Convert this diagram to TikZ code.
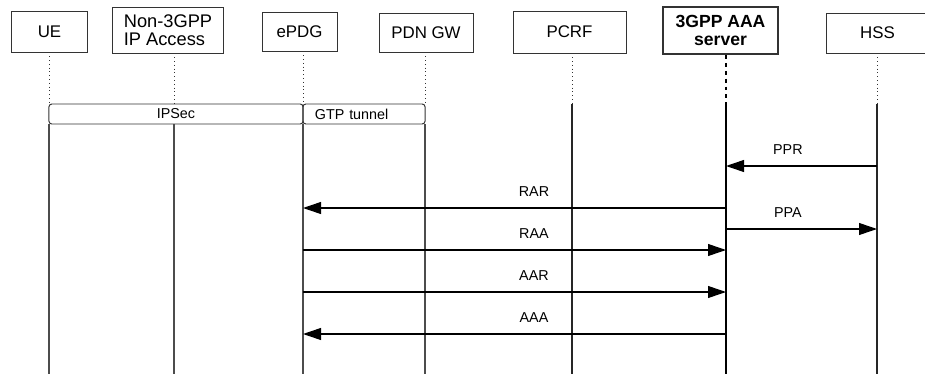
\documentclass[tikz,border=0pt]{standalone}
\usepackage{fontspec}
\setmainfont{Liberation Sans}
\usetikzlibrary{arrows.meta,positioning}
\tikzset{
  entity/.style={draw=black!80,line width=0.7pt,fill=white,align=left,
    inner sep=2pt,font=\fontsize{12}{12.8}\selectfont},
  tunnel/.style={draw=black!80,line width=0.7pt,rounded corners=2pt,
    minimum height=0.5cm,inner sep=0pt,font=\fontsize{10.2}{12}\selectfont},
  lifedot/.style={draw=black!80,line width=0.7pt,dotted},
  lifeline/.style={draw=black!70,line width=0.8pt},
  msgarrow/.style={-{Triangle[length=12.8pt,width=8.5pt]},
    line width=0.8pt,draw=black},
  msglabel/.style={font=\fontsize{10.2}{12}\selectfont,inner sep=0pt,above=8pt},
}
\begin{document}
\begin{tikzpicture}[x=0.025cm,y=-0.025cm]
\clip (0,0) rectangle (925,374);
\fill[white] (0,0) rectangle (925,374);
% entities
\node[entity,minimum width=1.875cm,minimum height=1.025cm] (ue) at (49.5,31.5) {UE};
\node[entity,minimum width=2.75cm,minimum height=1.15cm,
  font=\fontsize{13}{12.8}\selectfont] (nip) at (168,30) {Non-3GPP\\IP Access};
\node[entity,minimum width=1.875cm,minimum height=0.975cm] (epdg) at (299.5,31.5) {ePDG};
\node[entity,minimum width=2.35cm,minimum height=0.975cm] (pdn) at (426,32.5) {PDN GW};
\node[entity,minimum width=2.825cm,minimum height=1.05cm] (pcrf) at (569.5,32) {PCRF};
\node[entity,line width=1.5pt,align=center,minimum width=2.875cm,minimum height=1.175cm,
  font=\fontsize{12.5}{12.2}\selectfont\bfseries] (aaa) at (720.5,30.5) {3GPP AAA\\server};
\node[entity,minimum width=2.575cm,minimum height=1cm] (hss) at (877.5,33) {HSS};
% lifeline ends
\coordinate (ue-l) at (49,374);
\coordinate (nip-l) at (174,374);
\coordinate (epdg-l) at (303,374);
\coordinate (pdn-l) at (425,374);
\coordinate (pcrf-l) at (572,374);
\coordinate (aaa-l) at (726,374);
\coordinate (hss-l) at (877,374);
% tunnels
\node[tunnel,minimum width=6.35cm] (ipsec) at (176,114) {IPSec};
\node[tunnel,minimum width=3.05cm,text width=2.45cm,align=left] (gtp) at (364,114) {GTP tunnel};
\foreach \n in {ue,nip,epdg,pdn}{
  \draw[lifedot] (\n.south -| \n-l) -- (ipsec.north -| \n-l);
  \draw[lifeline] (ipsec.south -| \n-l) -- (\n-l);
}
\foreach \n in {pcrf,hss}{
  \draw[lifedot] (\n.south -| \n-l) -- (ipsec.north -| \n-l);
  \draw[lifeline,draw=black!85] (ipsec.north -| \n-l) -- (\n-l);
}
\draw[line width=1.6pt,dash pattern=on 2.8pt off 2.8pt] (aaa.south -| aaa-l) -- (ipsec.north -| aaa-l);
\draw[line width=1.6pt] (ipsec.north -| aaa-l) -- (aaa-l);
% messages
\draw[msgarrow] (hss-l |- 0,166) -- node[msglabel,pos=.59]{PPR} (aaa-l |- 0,166);
\draw[msgarrow] (aaa-l |- 0,208) -- node[msglabel,pos=.454]{RAR} (epdg-l |- 0,208);
\draw[msgarrow] (aaa-l |- 0,229) -- node[msglabel,pos=.41]{PPA} (hss-l |- 0,229);
\draw[msgarrow] (epdg-l |- 0,250) -- node[msglabel,pos=.546]{RAA} (aaa-l |- 0,250);
\draw[msgarrow] (epdg-l |- 0,292) -- node[msglabel,pos=.546]{AAR} (aaa-l |- 0,292);
\draw[msgarrow] (aaa-l |- 0,334) -- node[msglabel,pos=.454]{AAA} (epdg-l |- 0,334);
\end{tikzpicture}
\end{document}
